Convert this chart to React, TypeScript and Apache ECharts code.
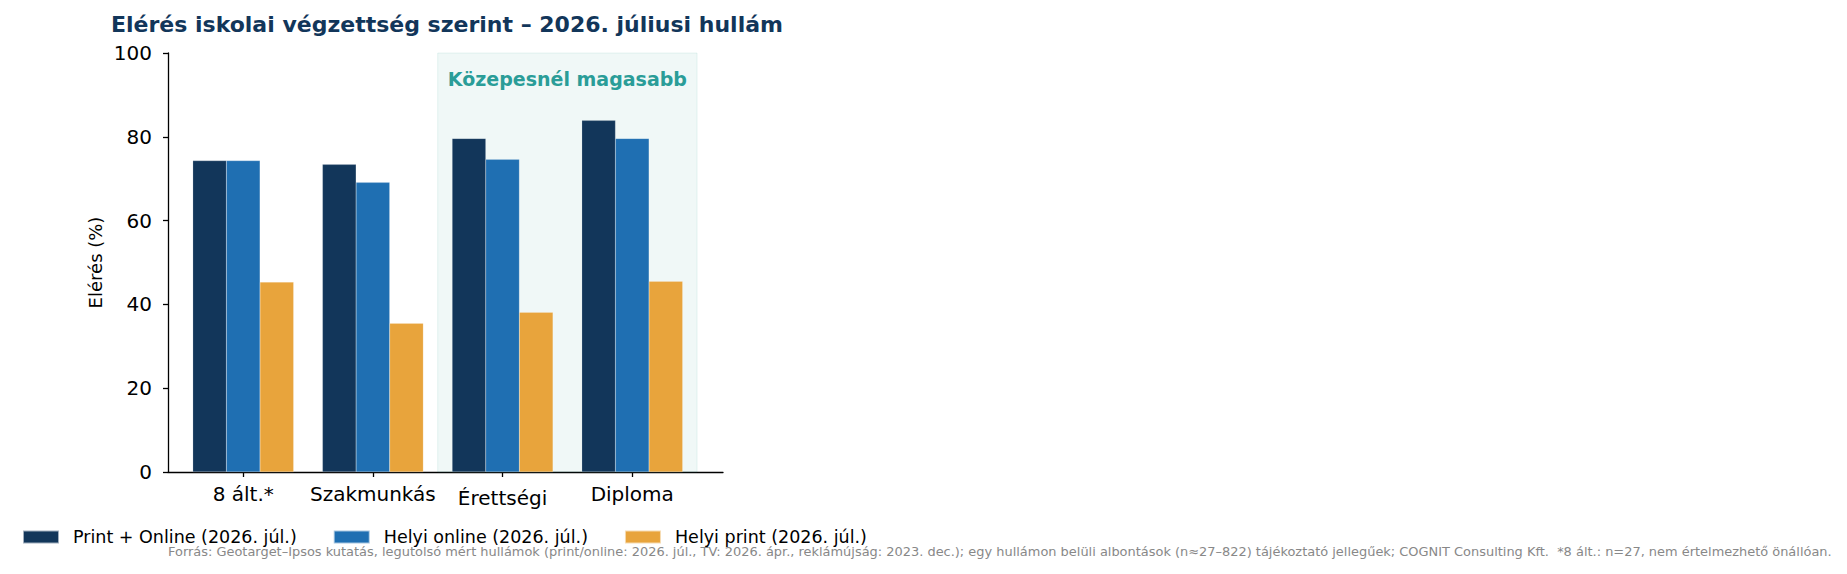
import React, { useEffect, useRef } from "react";
import * as echarts from "echarts";

const CATEGORIES = ["8 ált.*", "Szakmunkás", "Érettségi", "Diploma"];
const CATEGORY_POS = [0, 1, 2, 3];
const SERIES_NAMES = [
  "Print + Online (2026. júl.)",
  "Helyi online (2026. júl.)",
  "Helyi print (2026. júl.)",
];
const PRINT_ONLINE = [74.3, 73.4, 79.6, 83.9];
const HELYI_ONLINE = [74.3, 69.1, 74.6, 79.6];
const HELYI_PRINT = [45.3, 35.5, 38.1, 45.5];
const COLORS = ["#12365A", "#1F6FB2", "#E8A43C"];
const BAND_RANGE = [1.5, 3.5];
const BAND_LABEL = "Közepesnél magasabb";
const TITLE = "Elérés iskolai végzettség szerint – 2026. júliusi hullám";
const Y_NAME = "Elérés (%)";
const FOOTNOTE =
  "Forrás: Geotarget–Ipsos kutatás, legutolsó mért hullámok (print/online: 2026. júl., TV: 2026. ápr., reklámújság: 2023. dec.); egy hullámon belüli albontások (n≈27–822) tájékoztató jellegűek; COGNIT Consulting Kft.  *8 ált.: n=27, nem értelmezhető önállóan.";

const FONT = "'DejaVu Sans', sans-serif";

export default function App() {
  const ref = useRef<HTMLDivElement>(null);
  useEffect(() => {
    document.body.style.margin = "0";
    if (!ref.current) return;
    const chart = echarts.init(ref.current, null, { renderer: "svg" });
    const values = [PRINT_ONLINE, HELYI_ONLINE, HELYI_PRINT];
    const barSeries = values.map((arr, si) => ({
      name: SERIES_NAMES[si],
      type: "bar",
      data: CATEGORY_POS.map((p, i) => [p, arr[i]]),
      barWidth: 33.6,
      barGap: "0%",
      itemStyle: { color: COLORS[si], borderColor: "rgba(255,255,255,0.6)", borderWidth: 0.3 },
      z: 2,
    }));
    chart.setOption({
      animation: false,
      textStyle: { fontFamily: FONT },
      title: [
        {
          text: TITLE,
          left: 111,
          top: 13,
          padding: 0,
          textStyle: { fontFamily: FONT, fontSize: 22, fontWeight: "bold", color: "#12365A" },
        },
        {
          text: FOOTNOTE,
          left: 168,
          top: 545,
          padding: 0,
          textStyle: { fontFamily: FONT, fontSize: 12.95, fontWeight: "normal", color: "#888888" },
        },
      ],
      legend: {
        data: SERIES_NAMES,
        left: 22,
        top: 528,
        padding: 0,
        icon: "rect",
        itemWidth: 36,
        itemHeight: 13,
        itemGap: 36,
        selectedMode: false,
        textStyle: { fontFamily: FONT, fontSize: 17.5, color: "#000", padding: [0, 0, 0, 9] },
      },
      grid: { left: 168, top: 53, width: 555, height: 419, containLabel: false },
      xAxis: {
        type: "value",
        min: -0.58,
        max: 3.7,
        splitLine: { show: false },
        axisLine: { show: true, lineStyle: { color: "#000", width: 1.3 } },
        axisTick: { show: true, customValues: CATEGORY_POS, length: 5, lineStyle: { color: "#000", width: 1.3 } },
        axisLabel: {
          customValues: CATEGORY_POS,
          fontFamily: FONT,
          fontSize: 20,
          color: "#000",
          margin: 12,
          formatter: (v: number) => {
            const name = CATEGORIES[Math.round(v)];
            return name === "Érettségi" ? "{e|" + name + "}" : name;
          },
          rich: { e: { fontFamily: FONT, fontSize: 20, color: "#000", padding: [4, 0, 0, 0] } },
        },
      },
      yAxis: {
        type: "value",
        min: 0,
        max: 100,
        interval: 20,
        name: Y_NAME,
        nameLocation: "middle",
        nameGap: 64,
        nameTextStyle: { fontFamily: FONT, fontSize: 18, color: "#000" },
        splitLine: { show: false },
        axisLine: { show: true, onZero: false, lineStyle: { color: "#000", width: 1.3 } },
        axisTick: { show: true, length: 5, lineStyle: { color: "#000", width: 1.3 } },
        axisLabel: { fontFamily: FONT, fontSize: 20, color: "#000", margin: 16 },
      },
      series: [
        ...barSeries,
        {
          name: "band",
          type: "line",
          data: [],
          z: 5,
          silent: true,
          markArea: {
            silent: true,
            itemStyle: {
              color: "rgba(42,157,143,0.07)",
              borderColor: "rgba(42,157,143,0.10)",
              borderWidth: 1,
            },
            label: {
              show: true,
              position: "insideTop",
              distance: 17,
              formatter: BAND_LABEL,
              fontFamily: FONT,
              fontSize: 19,
              fontWeight: "bold",
              color: "#2A9D98",
            },
            data: [[{ xAxis: BAND_RANGE[0], yAxis: 0 }, { xAxis: BAND_RANGE[1], yAxis: 100 }]],
          },
        },
      ],
    });
    return () => chart.dispose();
  }, []);
  return <div ref={ref} style={{ width: 1847, height: 574 }} />;
}
